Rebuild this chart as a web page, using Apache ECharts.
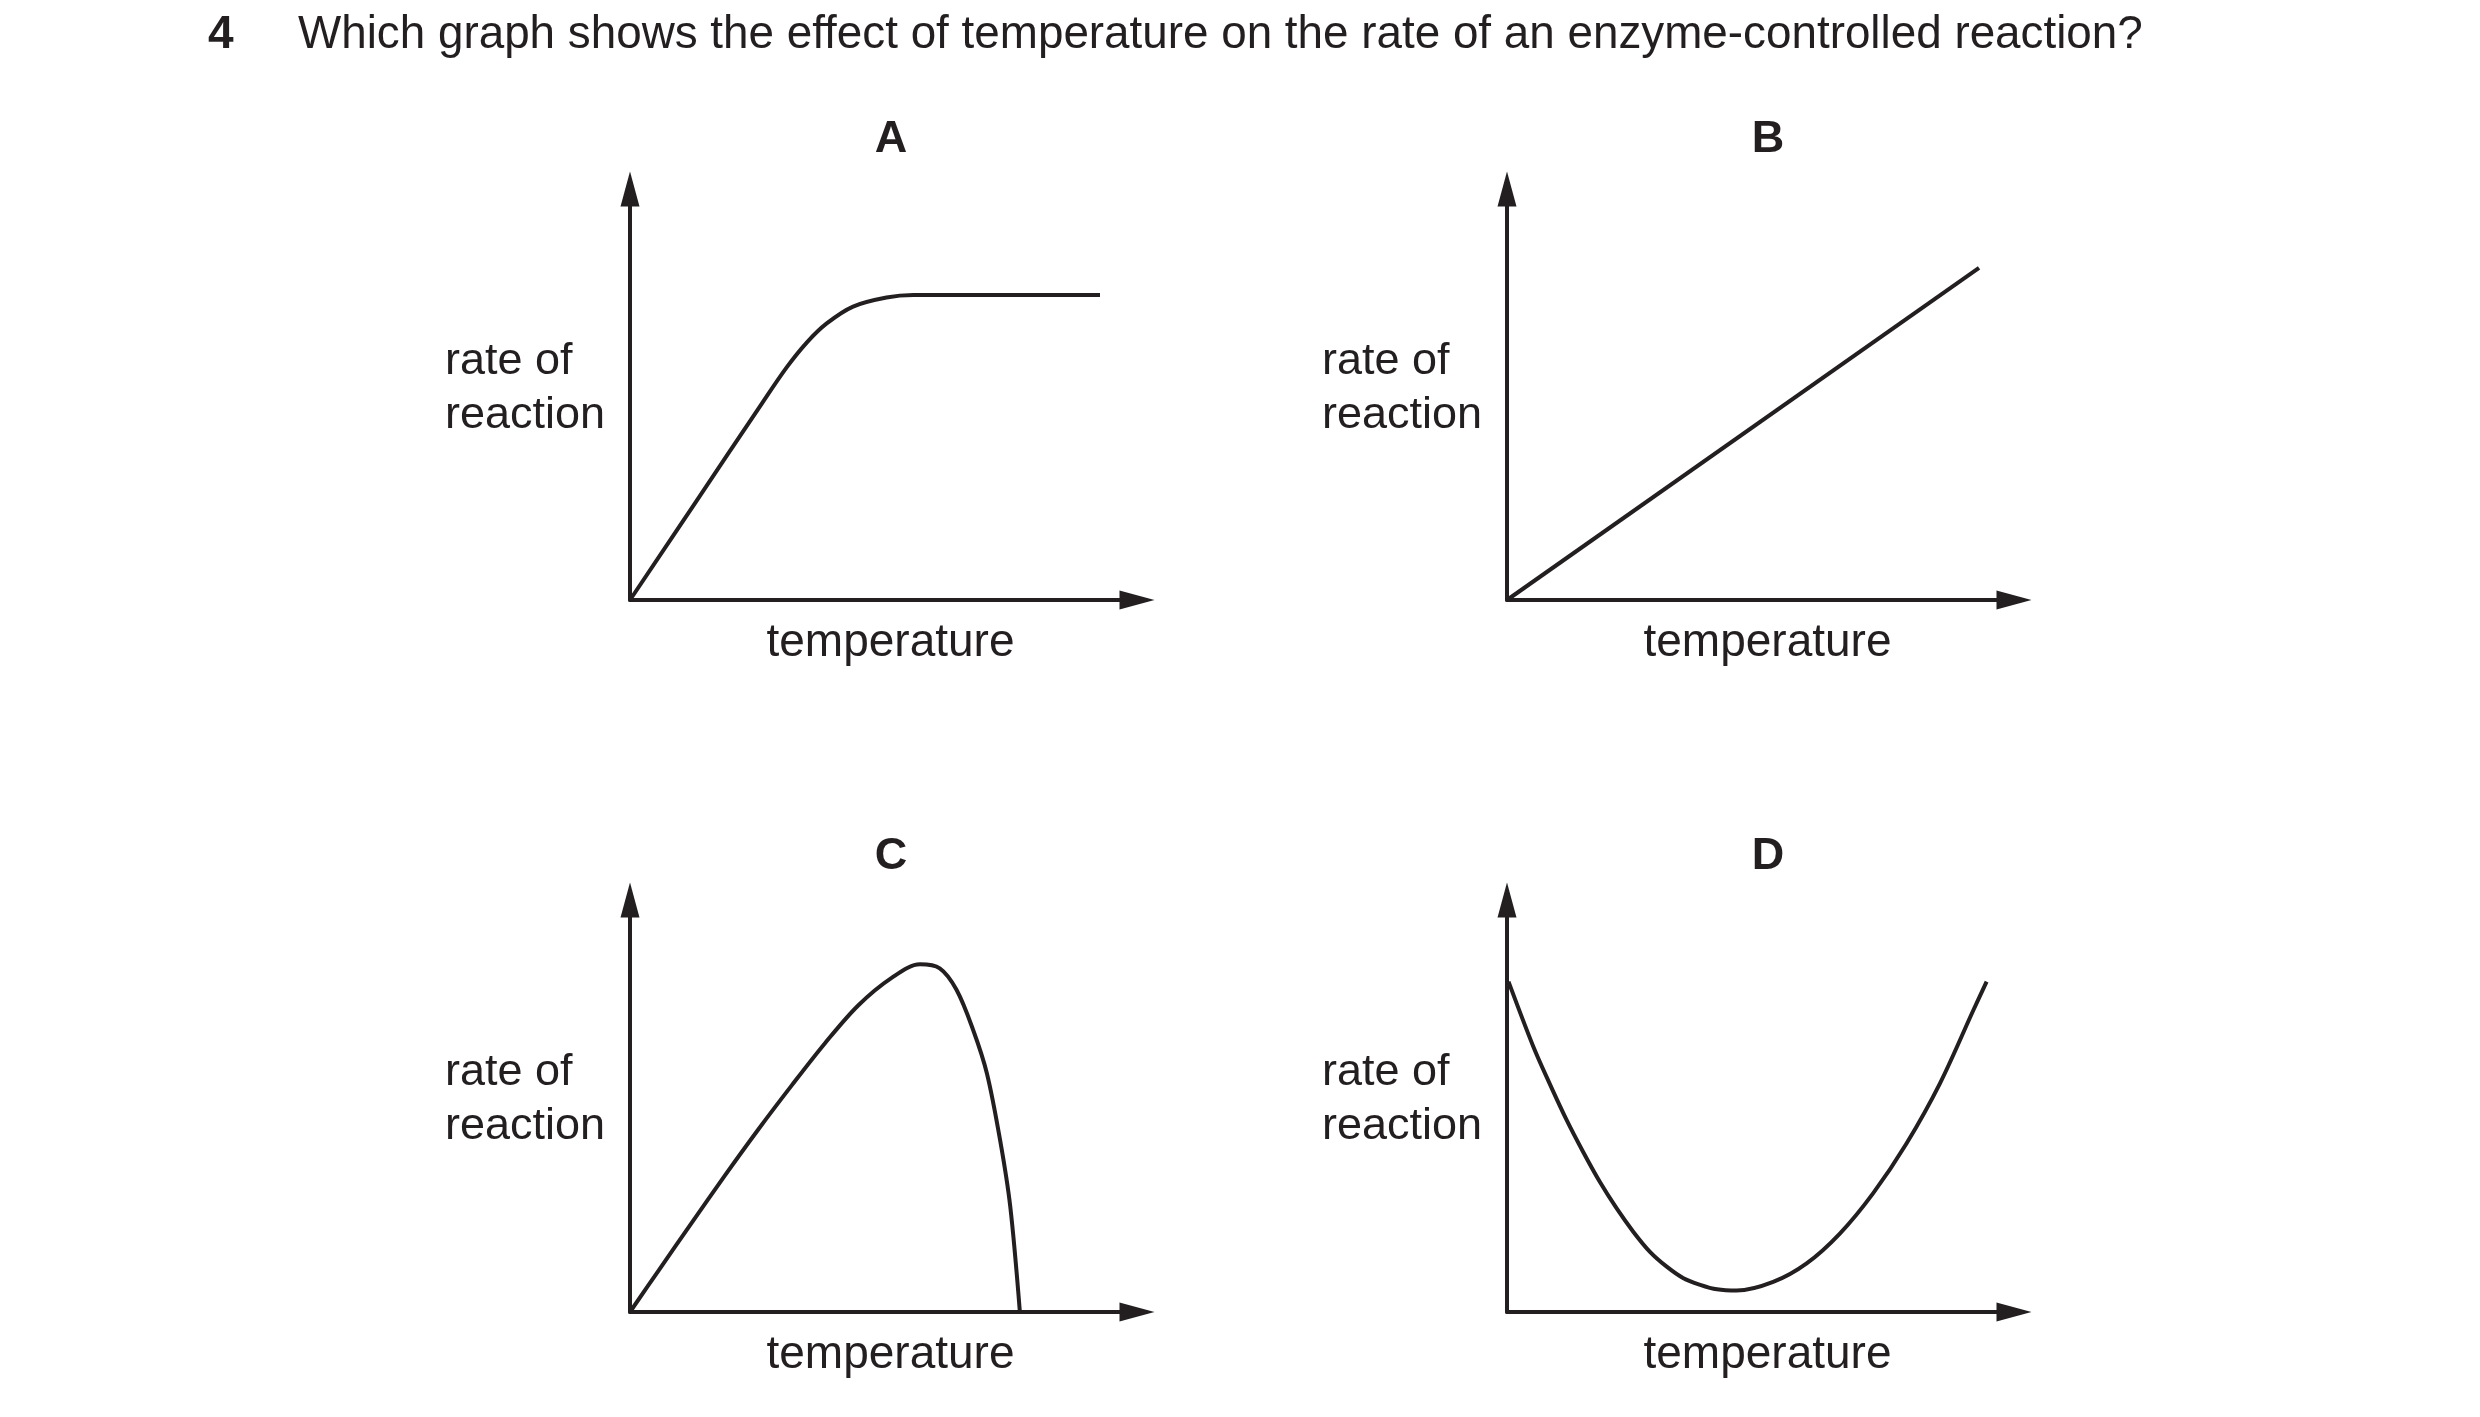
<!DOCTYPE html>
<html>
<head>
<meta charset="utf-8">
<script src="https://cdn.jsdelivr.net/npm/echarts@6/dist/echarts.min.js"></script>
<style>
  html, body { margin: 0; padding: 0; background: #fff; }
  #chart { width: 2480px; height: 1417px; }
</style>
</head>
<body>
<div id="chart"></div>
<script>
// question text and panel letters
const questionNo = '4';
const questionText = 'Which graph shows the effect of temperature on the rate of an enzyme-controlled reaction?';
const panelNames = ['A', 'B', 'C', 'D'];
const xName = 'temperature';
const yName = ['rate of', 'reaction'];

// curves, [temperature, rate] on a 0-100 scale
const curveA = [[0, 0], [13, 23.9], [26, 47.8], [30.9, 56.6], [34.9, 62.7], [38.8, 67.3], [44, 71.4], [50.6, 73.6], [55.9, 74.2], [70, 74.2], [92.7, 74.2]];
const curveB = [[0, 0], [93.1, 80.8]];
const curveC = [[0, 0], [5.6, 10], [12.2, 21.7], [18.7, 33.1], [25.3, 44.3], [31.9, 55], [38.5, 65.3], [45, 74.4], [51.6, 81.1], [57.2, 84.4], [61.1, 83.4], [64.4, 78.2], [67.7, 68.4], [70.4, 57.9], [73, 41.7], [75, 25.6], [76.9, 0]];
const curveD = [[0.3, 80.2], [5.2, 64.4], [8.5, 55.2], [11.8, 46.5], [15, 38.9], [18.3, 31.6], [21.6, 25.2], [24.9, 19.5], [28.2, 14.6], [31.5, 11], [34.8, 8.2], [38.1, 6.6], [41.4, 5.5], [45.3, 5.2], [52.5, 7.3], [59.1, 11.8], [65.7, 19.1], [72.2, 28.8], [78.8, 40.9], [85.4, 55.5], [92, 73.3], [94.6, 80.2]];

const ink = '#231f20';
const font = '"Liberation Sans", Arial, sans-serif';

const grids = [
    {left: 630, top: 189, width: 507, height: 411},
    {left: 1507, top: 189, width: 507, height: 411},
    {left: 630, top: 900, width: 507, height: 412},
    {left: 1507, top: 900, width: 507, height: 412}
];

const axisLine = {
    show: true,
    symbol: ['none', 'triangle'],
    symbolSize: [19, 35],
    lineStyle: {color: ink, width: 4}
};

const xAxis = grids.map((g, i) => ({
    gridIndex: i,
    type: 'value',
    min: 0,
    max: 100,
    name: xName,
    nameLocation: 'middle',
    nameGap: 20,
    nameTextStyle: {color: ink, fontSize: 46, fontFamily: font, padding: [0, 0, 0, 14]},
    axisLine,
    axisTick: {show: false},
    axisLabel: {show: false},
    splitLine: {show: false}
}));

// the empty last line lifts the two-line label a little, as in the original
const yAxis = grids.map((g, i) => ({
    gridIndex: i,
    type: 'value',
    min: 0,
    max: 100,
    name: yName.map(s => '{t|' + s + '}').join('\n') + '\n{s| }',
    nameLocation: 'middle',
    nameRotate: 0,
    nameGap: 185,
    nameTextStyle: {
        color: ink,
        fontSize: 45,
        fontFamily: font,
        align: 'left',
        rich: {
            t: {fontSize: 45, fontFamily: font, color: ink, lineHeight: 54},
            s: {fontSize: 6, lineHeight: 12}
        }
    },
    axisLine,
    axisTick: {show: false},
    axisLabel: {show: false},
    splitLine: {show: false}
}));

const curves = [curveA, curveB, curveC, curveD];
const series = curves.map((data, i) => ({
    type: 'line',
    xAxisIndex: i,
    yAxisIndex: i,
    data,
    smooth: i === 1 ? false : 0.33,
    showSymbol: false,
    symbol: 'none',
    lineStyle: {color: ink, width: 4},
    silent: true
}));

const title = [
    {text: questionNo, left: 203, top: 7, textStyle: {color: ink, fontSize: 46, fontWeight: 'bold', fontFamily: font}},
    {text: questionText, left: 293, top: 7, textStyle: {color: ink, fontSize: 45.8, fontWeight: 'normal', fontFamily: font}}
].concat(panelNames.map((name, i) => ({
    text: name,
    left: grids[i].left + 256,
    top: i < 2 ? 112 : 829,
    textAlign: 'center',
    textStyle: {color: ink, fontSize: 45, fontWeight: 'bold', fontFamily: font}
})));

const myChart = echarts.init(document.getElementById('chart'));
myChart.setOption({
    backgroundColor: '#fff',
    animation: false,
    title,
    grid: grids,
    xAxis,
    yAxis,
    series
});
</script>
</body>
</html>
